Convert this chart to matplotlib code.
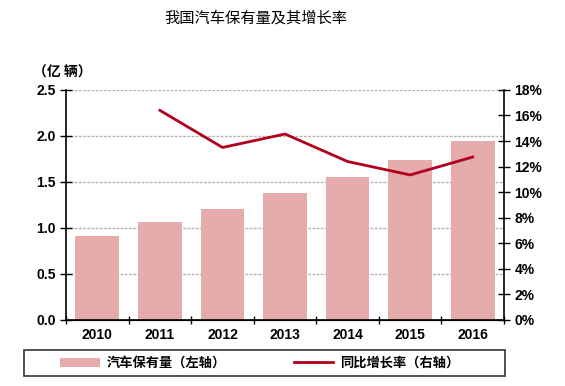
import matplotlib.pyplot as plt
import numpy as np
from matplotlib.patches import Rectangle

plt.rcParams['font.family'] = ['Liberation Sans', 'Noto Sans CJK SC', 'DejaVu Sans']

# Data
years = ['2010', '2011', '2012', '2013', '2014', '2015', '2016']
stock = [0.91, 1.07, 1.21, 1.38, 1.55, 1.74, 1.95]
growth_years = ['2011', '2012', '2013', '2014', '2015', '2016']
growth = [16.4, 13.5, 14.55, 12.4, 11.35, 12.75]

bar_color = '#E6ABAB'
line_color = '#B0001E'

fig = plt.figure(figsize=(5.65, 3.86), dpi=100)
ax = fig.add_axes([0.117, 0.171, 0.775, 0.596])
ax2 = ax.twinx()

x = np.arange(len(years))
bars = ax.bar(x, stock, width=0.7, color=bar_color, zorder=2, label='汽车保有量（左轴）')
gx = [years.index(y) for y in growth_years]
line, = ax2.plot(gx, growth, color=line_color, lw=2, zorder=3, label='同比增长率（右轴）')

# Left axis
ax.set_ylim(0, 2.5)
ax.set_yticks(np.arange(0, 2.51, 0.5))
ax.set_yticklabels(['%.1f' % v for v in np.arange(0, 2.51, 0.5)])
ax.set_xlim(-0.5, len(years) - 0.5)
ax.set_xticks(x)
ax.set_xticklabels(years)
ax.set_xticks(np.arange(-0.5, len(years)), minor=True)
ax.tick_params(axis='x', which='major', length=0, pad=6)
ax.tick_params(axis='x', which='minor', direction='inout', length=6, width=1)
ax.tick_params(axis='y', direction='inout', length=8, width=1)
ax.grid(axis='y', color='#B5B5B5', lw=1, ls=(0, (2, 1)), zorder=0)
ax.set_axisbelow(True)

# Right axis
ax2.set_ylim(0, 18)
ax2.set_yticks(np.arange(0, 19, 2))
ax2.set_yticklabels(['%d%%' % v for v in np.arange(0, 19, 2)])
ax2.tick_params(axis='y', direction='inout', length=8, width=1)

for a in (ax, ax2):
    a.spines['top'].set_visible(False)
    for lab in a.get_xticklabels() + a.get_yticklabels():
        lab.set_fontweight('bold')
        lab.set_fontsize(10)
ax2.spines['left'].set_visible(False)
ax.spines['right'].set_visible(False)
for s in ('left', 'bottom'):
    ax.spines[s].set_linewidth(1.2)
ax2.spines['right'].set_linewidth(1.2)

fig.text(0.452, 0.953, '我国汽车保有量及其增长率', ha='center', va='center',
         fontsize=11, family=['Noto Sans CJK SC'])
fig.text(0.058, 0.813, '（亿 辆）', ha='left', va='center', fontsize=10,
         fontweight='bold', family=['Noto Sans CJK SC'])

# Legend box frame, then entries without frame
fig.add_artist(Rectangle((0.042, 0.026), 0.852, 0.067, transform=fig.transFigure,
                         fill=False, edgecolor='#333333', lw=1.2))
fig.legend(handles=[bars, line], loc='center', ncol=2,
           bbox_to_anchor=(0.1, 0.026, 0.72, 0.067), mode='expand',
           frameon=False,
           prop={'family': 'Noto Sans CJK SC', 'size': 9.5, 'weight': 'bold'},
           handlelength=3.0, borderpad=0.3, borderaxespad=0,
           handletextpad=0.5, columnspacing=6)

fig.savefig('out.png', dpi=100)
